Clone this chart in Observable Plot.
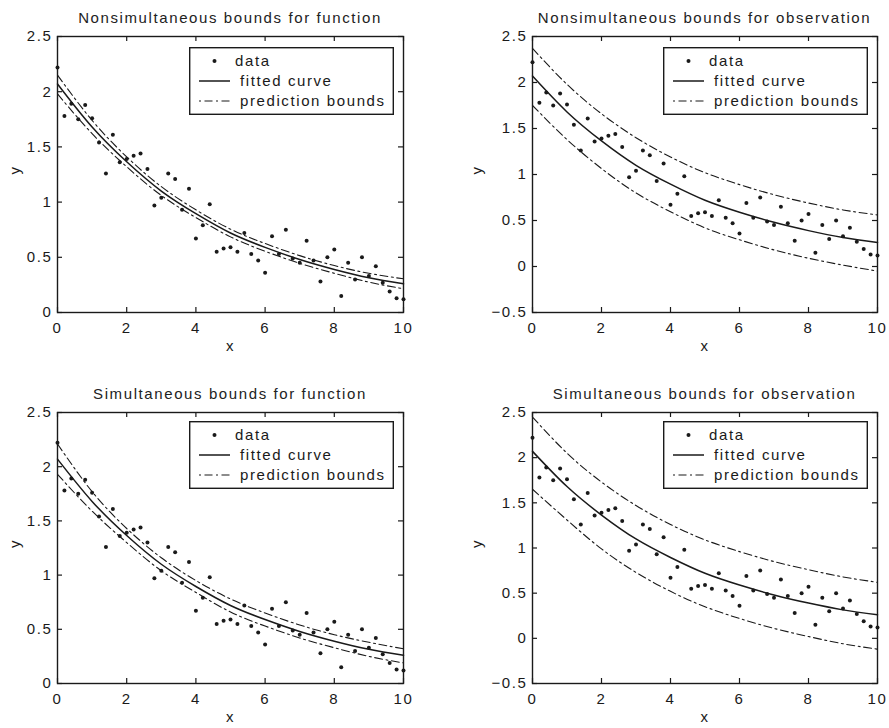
<!DOCTYPE html>
<html><head><meta charset="utf-8">
<script src="https://cdn.jsdelivr.net/npm/d3@7"></script>
<script src="https://cdn.jsdelivr.net/npm/@observablehq/plot@0.6"></script>
<style>
body{margin:0;background:#fff;}
#root{position:relative;width:889px;height:728px;overflow:hidden;font-family:"Liberation Sans",Arial,Helvetica,sans-serif;}
.panel{position:absolute;}
.title{position:absolute;text-align:center;font-size:15px;letter-spacing:1.6px;line-height:18px;color:#222;white-space:nowrap;}
.legend{position:absolute;}
</style></head><body><div id="root"></div>
<script>
// observed data (same in all four panels)
const xData = [0,0.2,0.4,0.6,0.8,1,1.2,1.4,1.6,1.8,2,2.2,2.4,2.6,2.8,3,3.2,3.4,3.6,3.8,4,4.2,4.4,4.6,4.8,5,5.2,5.4,5.6,5.8,6,6.2,6.4,6.6,6.8,7,7.2,7.4,7.6,7.8,8,8.2,8.4,8.6,8.8,9,9.2,9.4,9.6,9.8,10];
const yData = [2.22,1.78,1.89,1.75,1.88,1.76,1.54,1.26,1.61,1.36,1.39,1.42,1.44,1.30,0.97,1.04,1.26,1.21,0.93,1.12,0.67,0.79,0.98,0.55,0.58,0.59,0.55,0.72,0.53,0.47,0.36,0.69,0.53,0.75,0.49,0.45,0.65,0.47,0.28,0.50,0.57,0.15,0.45,0.30,0.50,0.33,0.42,0.27,0.19,0.13,0.12];

// fitted curve and bounds read at x = 0..10
const xCurve = [0,1,2,3,4,5,6,7,8,9,10];
const yFit = [2.07,1.68,1.365,1.10,0.895,0.72,0.59,0.48,0.39,0.315,0.26];
const upperNonsimFun = [2.15,1.74,1.41,1.14,0.93,0.755,0.625,0.515,0.425,0.355,0.305];
const lowerNonsimFun = [1.98,1.62,1.32,1.06,0.86,0.685,0.555,0.445,0.355,0.275,0.215];
const upperNonsimObs = [2.37,1.98,1.66,1.40,1.19,1.02,0.89,0.78,0.69,0.615,0.56];
const lowerNonsimObs = [1.75,1.38,1.065,0.80,0.595,0.42,0.29,0.18,0.09,0.015,-0.05];
const upperSimFun = [2.21,1.77,1.43,1.16,0.95,0.78,0.65,0.54,0.45,0.38,0.32];
const lowerSimFun = [1.93,1.59,1.30,1.04,0.84,0.66,0.53,0.42,0.33,0.25,0.19];
const upperSimObs = [2.45,2.05,1.73,1.47,1.26,1.09,0.96,0.85,0.76,0.68,0.62];
const lowerSimObs = [1.65,1.31,0.99,0.73,0.52,0.35,0.22,0.11,0.02,-0.06,-0.12];

const titles = ["Nonsimultaneous bounds for function","Nonsimultaneous bounds for observation","Simultaneous bounds for function","Simultaneous bounds for observation"];
const legendLabels = ["data","fitted curve","prediction bounds"];
const xTicks = [0,2,4,6,8,10];
const yTicksFun = [0,0.5,1,1.5,2,2.5];
const yTicksObs = [-0.5,0,0.5,1,1.5,2,2.5];

const points = xData.map((x,i)=>({x, y:yData[i]}));
const curveRows = (ys)=>xCurve.map((x,i)=>({x, y:ys[i]}));

const panels = [
  {title:titles[0], left:0, top:28, width:440, height:332, mL:57, mR:37, mT:8, mB:48, yDom:[0,2.5], yTicks:yTicksFun, up:upperNonsimFun, lo:lowerNonsimFun, yOff:42, legTop:11},
  {title:titles[1], left:440, top:28, width:449, height:332, mL:92, mR:12, mT:8, mB:48, yDom:[-0.5,2.5], yTicks:yTicksObs, up:upperNonsimObs, lo:lowerNonsimObs, yOff:55, legTop:11},
  {title:titles[2], left:0, top:404, width:440, height:324, mL:57, mR:37, mT:8, mB:45, yDom:[0,2.5], yTicks:yTicksFun, up:upperSimFun, lo:lowerSimFun, yOff:42, legTop:9},
  {title:titles[3], left:440, top:404, width:449, height:324, mL:92, mR:12, mT:8, mB:45, yDom:[-0.5,2.5], yTicks:yTicksObs, up:upperSimObs, lo:lowerSimObs, yOff:55, legTop:9}
];

const root = document.getElementById("root");
const ink = "#1a1a1a";
const dash = "8,3.5,2,3.5";
const fmt = d3.format("~g");
const tick = 5;

for (const p of panels) {
  const innerH = p.height - p.mT - p.mB;
  const innerW = p.width - p.mL - p.mR;
  const chart = Plot.plot({
    width: p.width, height: p.height,
    marginLeft: p.mL, marginRight: p.mR, marginTop: p.mT, marginBottom: p.mB,
    style: {fontFamily: '"Liberation Sans",Arial,sans-serif', fontSize: "15px", letterSpacing: "1.6px", color: ink, background: "white", overflow: "visible"},
    x: {domain: [0,10], label: null},
    y: {domain: p.yDom, label: null},
    marks: [
      Plot.line(curveRows(p.up), {x:"x", y:"y", curve:"natural", stroke:ink, strokeWidth:1.1, strokeDasharray:dash}),
      Plot.line(curveRows(p.lo), {x:"x", y:"y", curve:"natural", stroke:ink, strokeWidth:1.1, strokeDasharray:dash}),
      Plot.line(curveRows(yFit), {x:"x", y:"y", curve:"natural", stroke:ink, strokeWidth:1.5}),
      Plot.dot(points, {x:"x", y:"y", r:2, fill:ink, stroke:null}),
      // inward tick marks on all four sides
      Plot.tickX(xTicks, {x: d => d, insetTop: innerH - tick, stroke: ink, strokeWidth: 1.2}),
      Plot.tickX(xTicks, {x: d => d, insetBottom: innerH - tick, stroke: ink, strokeWidth: 1.2}),
      Plot.tickY(p.yTicks, {y: d => d, insetRight: innerW - tick, stroke: ink, strokeWidth: 1.2}),
      Plot.tickY(p.yTicks, {y: d => d, insetLeft: innerW - tick, stroke: ink, strokeWidth: 1.2}),
      Plot.frame({stroke: ink, strokeWidth: 1.4}),
      Plot.axisX({ticks: xTicks, tickSize: 0, tickPadding: 10, tickFormat: fmt, label: null}),
      Plot.axisY({ticks: p.yTicks, tickSize: 0, tickPadding: 5, tickFormat: fmt, label: null}),
      Plot.text(["x"], {frameAnchor: "bottom", dy: 38, fill: ink}),
      Plot.text(["y"], {frameAnchor: "left", dx: -p.yOff, rotate: -90, fill: ink})
    ]
  });
  chart.classList.add("panel");
  chart.style.left = p.left + "px";
  chart.style.top = p.top + "px";
  root.appendChild(chart);

  const boxL = p.left + p.mL, boxR = p.left + p.width - p.mR, boxT = p.top + p.mT;
  const t = document.createElement("div");
  t.className = "title";
  t.textContent = p.title;
  t.style.left = boxL + "px";
  t.style.width = (boxR - boxL) + "px";
  t.style.top = (boxT - 27) + "px";
  root.appendChild(t);

  // legend
  const lw = 205, lh = 68;
  const svg = d3.create("svg").attr("class","legend").attr("width", lw).attr("height", lh)
    .style("left", (boxR - 9 - lw) + "px").style("top", (boxT + p.legTop) + "px");
  svg.append("rect").attr("x",0.7).attr("y",0.7).attr("width",lw-1.4).attr("height",lh-1.4)
    .attr("fill","white").attr("stroke",ink).attr("stroke-width",1.4);
  const rows = [14,34,54];
  svg.append("circle").attr("cx",25.5).attr("cy",rows[0]).attr("r",2).attr("fill",ink);
  svg.append("line").attr("x1",10).attr("x2",41).attr("y1",rows[1]).attr("y2",rows[1]).attr("stroke",ink).attr("stroke-width",1.5);
  svg.append("line").attr("x1",10).attr("x2",41).attr("y1",rows[2]).attr("y2",rows[2]).attr("stroke",ink).attr("stroke-width",1.1).attr("stroke-dasharray","2,3.5,8,3.5");
  legendLabels.forEach((s,i)=>{
    svg.append("text").attr("x", i===0 ? 46 : 51).attr("y", rows[i]).attr("dy","0.35em")
      .attr("font-family",'"Liberation Sans",Arial,sans-serif').attr("font-size",15)
      .attr("letter-spacing","1.6px").attr("fill",ink).text(s);
  });
  root.appendChild(svg.node());
}
</script></body></html>
